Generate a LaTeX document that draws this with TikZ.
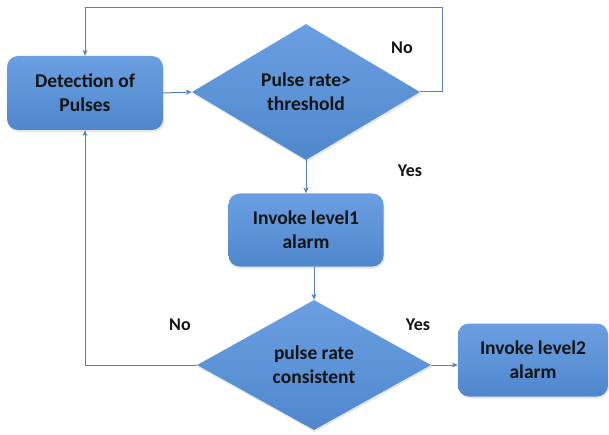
\documentclass[tikz,border=0pt]{standalone}
\usepackage{fontspec}
\setmainfont{Carlito}
\usetikzlibrary{shapes.geometric,arrows.meta,shadows}
\definecolor{boxtop}{RGB}{106,160,226}
\definecolor{boxbot}{RGB}{80,134,204}
\definecolor{linec}{RGB}{84,128,188}
\definecolor{txt}{RGB}{20,20,20}
\tikzset{
  procbox/.style={rectangle, rounded corners=11pt, inner sep=0pt, align=center,
    top color=boxtop, bottom color=boxbot, text=txt,
    font=\fontsize{19.5}{24}\selectfont\bfseries,
    drop shadow={shadow xshift=1pt, shadow yshift=-2pt, opacity=0.2}},
  decbox/.style={diamond, inner sep=0pt, align=center,
    top color=boxtop, bottom color=boxbot, text=txt,
    font=\fontsize{19.5}{24}\selectfont\bfseries,
    drop shadow={shadow xshift=1pt, shadow yshift=-2pt, opacity=0.2}},
  arr/.style={draw=linec, line width=1pt, -{Stealth[length=6pt,width=5pt]}},
  lbl/.style={font=\fontsize{18}{22}\selectfont\bfseries, text=txt}
}
\begin{document}
\begin{tikzpicture}[x=1pt,y=-1pt]
\useasboundingbox (0,0) rectangle (609,435);
\node[procbox, minimum width=156pt, minimum height=74pt] (det) at (85,93) {Detection of\\Pulses};
\node[decbox, minimum width=228pt, minimum height=136pt, aspect=1.68] (d1) at (306,92) {Pulse rate>\\threshold};
\node[procbox, minimum width=155pt, minimum height=73pt] (l1) at (306,230) {Invoke level1\\alarm};
\node[decbox, minimum width=234pt, minimum height=130pt, aspect=1.8] (d2) at (314,365) {pulse rate\\consistent};
\node[procbox, minimum width=150pt, minimum height=73pt] (l2) at (533,360) {Invoke level2\\alarm};

\coordinate (t1) at (442,92);
\coordinate (t2) at (442,8);
\coordinate (b1) at (85,365);

\draw[arr] (det.east) -- (d1.west);
\draw[arr] (d1.east) -- (t1) -- (t2) -| (det.north);
\draw[arr] (d1.south) -- (l1.north);
\draw[arr] (l1.south -| d2.north) -- (d2.north);
\draw[arr] (d2.east) -- (d2.east -| l2.west);
\draw[arr] (d2.west) -- (b1) -- (det.south);

\node[lbl] (no1) at (402,48) {No};
\node[lbl] (yes1) at (410,171) {Yes};
\node[lbl] (no2) at (180,325) {No};
\node[lbl] (yes2) at (418,325) {Yes};
\end{tikzpicture}
\end{document}
